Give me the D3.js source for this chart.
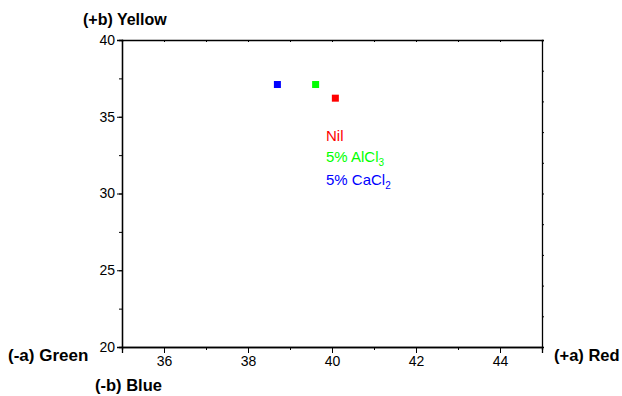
<!DOCTYPE html>
<html>
<head>
<meta charset="utf-8">
<script src="https://cdn.jsdelivr.net/npm/d3@7"></script>
<style>
  body { margin: 0; background: #fff; }
  text { font-family: "Liberation Sans", Arial, sans-serif; }
</style>
</head>
<body>
<div id="chart"></div>
<script>
// data
var samples = ["Nil", "5% AlCl3", "5% CaCl2"];
var aValues = [40.08, 39.61, 38.70];
var bValues = [36.21, 37.10, 37.10];
var colors = ["#ff0000", "#00ff00", "#0000ff"];
var xTicks = [36, 38, 40, 42, 44];
var yTicks = [20, 25, 30, 35, 40];

var svgWidth = 622;
var svgHeight = 396;
var margin = { top: 40, right: 80, bottom: 49, left: 122 };
var width = 420;
var height = 307;

var svg = d3.select("#chart").append("svg")
  .attr("width", svgWidth)
  .attr("height", svgHeight);

var g = svg.append("g")
  .attr("transform", `translate(${margin.left}, ${margin.top})`);

var x = d3.scaleLinear().domain([35, 45]).range([0, width]);
var y = d3.scaleLinear().domain([20, 40]).range([height, 0]);

function styleAxis(sel) {
  sel.selectAll("path").attr("stroke", "#000").attr("stroke-width", 1.3);
  sel.selectAll("line").attr("stroke", "#000");
  sel.selectAll("text").attr("font-size", "14px").attr("fill", "#000");
}

// minor ticks
g.append("g")
  .attr("transform", `translate(0, ${height})`)
  .call(d3.axisBottom(x).tickValues(d3.range(35, 45.1, 1)).tickSize(3).tickFormat(""))
  .call(styleAxis);
g.append("g")
  .call(d3.axisLeft(y).tickValues(d3.range(20, 40.1, 2.5)).tickSize(3).tickFormat(""))
  .call(styleAxis);

// major axes
g.append("g")
  .attr("transform", `translate(0, ${height})`)
  .call(d3.axisBottom(x).tickValues(xTicks).tickSize(6).tickPadding(3))
  .call(styleAxis);
g.append("g")
  .call(d3.axisLeft(y).tickValues(yTicks).tickSize(5).tickPadding(2))
  .call(styleAxis);

// top and right frame
g.append("g")
  .call(d3.axisTop(x).tickValues(d3.range(35, 45.1, 1)).tickSize(-2).tickFormat(""))
  .call(styleAxis);
g.append("g")
  .attr("transform", `translate(${width}, 0)`)
  .call(d3.axisRight(y).tickValues(d3.range(20, 40.1, 2)).tickSize(2).tickFormat(""))
  .call(styleAxis);

// points
var s = 7;
g.selectAll("rect.pt")
  .data(samples)
  .enter()
  .append("rect")
  .attr("class", "pt")
  .attr("x", (d, i) => x(aValues[i]) - s / 2)
  .attr("y", (d, i) => y(bValues[i]) - s / 2)
  .attr("width", s)
  .attr("height", s)
  .attr("fill", (d, i) => colors[i]);

// legend text
var legend = svg.append("g").attr("font-size", "15px");
legend.append("text").attr("x", 326).attr("y", 141).attr("fill", colors[0]).text("Nil");
var t2 = legend.append("text").attr("x", 326).attr("y", 162).attr("fill", colors[1]);
t2.append("tspan").text("5% AlCl");
t2.append("tspan").attr("font-size", "10px").attr("dy", 4).text("3");
var t3 = legend.append("text").attr("x", 326).attr("y", 185).attr("fill", colors[2]);
t3.append("tspan").text("5% CaCl");
t3.append("tspan").attr("font-size", "10px").attr("dy", 4).text("2");

// axis direction labels
var lab = svg.append("g").attr("font-weight", "bold").attr("fill", "#000");
lab.append("text").attr("x", 83).attr("y", 25).attr("font-size", "16px").text("(+b) Yellow");
lab.append("text").attr("x", 8).attr("y", 361).attr("font-size", "17px").text("(-a) Green");
lab.append("text").attr("x", 95).attr("y", 391).attr("font-size", "16.5px").text("(-b) Blue");
lab.append("text").attr("x", 554).attr("y", 361).attr("font-size", "16.5px").text("(+a) Red");
</script>
</body>
</html>
